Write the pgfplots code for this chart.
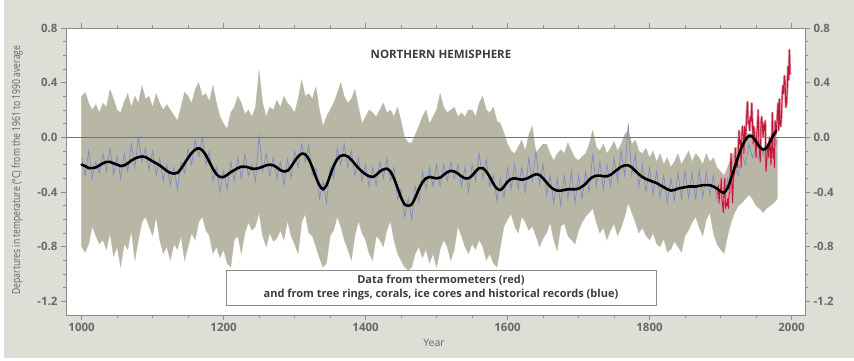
\documentclass[border=0pt]{standalone}
\usepackage{fontspec}
\setmainfont{Open Sans}
\usepackage{pgfplots}
\pgfplotsset{compat=1.18}
\usepackage{pgfplotstable}
\usepgfplotslibrary{fillbetween}
\definecolor{bggrey}{RGB}{222,222,214}
\definecolor{bandgrey}{RGB}{184,182,165}
\definecolor{recblue}{RGB}{120,135,205}
\definecolor{insred}{RGB}{190,25,55}
\definecolor{inspale}{RGB}{228,150,165}
\definecolor{axisgrey}{RGB}{140,140,140}
\definecolor{zerogrey}{RGB}{115,115,110}
\definecolor{labgrey}{RGB}{105,105,105}
\definecolor{txtgrey}{RGB}{60,60,60}
\pagecolor{bggrey}

\pgfplotstableread{
year up lo blue
1000 0.30 -0.80 -0.15
1005 0.33 -0.84 -0.28
1010 0.25 -0.78 -0.10
1015 0.20 -0.65 -0.30
1020 0.24 -0.72 -0.18
1025 0.18 -0.78 -0.26
1030 0.25 -0.75 -0.12
1035 0.22 -0.82 -0.25
1040 0.35 -0.70 -0.08
1045 0.28 -0.87 -0.27
1050 0.20 -0.80 -0.14
1055 0.18 -0.95 -0.30
1060 0.26 -0.78 -0.12
1065 0.32 -0.82 -0.25
1070 0.22 -0.68 -0.05
1075 0.30 -0.90 -0.22
1080 0.25 -0.75 0.00
1085 0.38 -0.62 -0.18
1090 0.28 -0.58 -0.08
1095 0.30 -0.65 -0.24
1100 0.22 -0.72 -0.10
1105 0.32 -0.58 -0.28
1110 0.25 -0.75 -0.15
1115 0.20 -0.85 -0.32
1120 0.24 -0.80 -0.20
1125 0.20 -0.90 -0.35
1130 0.16 -0.78 -0.22
1135 0.12 -0.82 -0.38
1140 0.22 -0.72 -0.18
1145 0.33 -0.90 -0.26
1150 0.30 -0.80 -0.08
1155 0.25 -0.70 -0.20
1160 0.35 -0.75 -0.02
1165 0.40 -0.62 -0.14
1170 0.30 -0.58 0.00
1175 0.32 -0.68 -0.20
1180 0.26 -0.72 -0.10
1185 0.38 -0.85 -0.32
1190 0.25 -0.80 -0.22
1195 0.15 -0.88 -0.40
1200 0.10 -0.82 -0.25
1205 0.06 -0.92 -0.38
1210 0.18 -0.95 -0.18
1215 0.22 -0.75 -0.32
1220 0.30 -0.72 -0.15
1225 0.25 -0.85 -0.30
1230 0.17 -0.70 -0.12
1235 0.20 -0.62 -0.28
1240 0.15 -0.68 -0.20
1245 0.22 -0.65 -0.32
1250 0.49 -0.55 0.02
1255 0.25 -0.72 -0.25
1260 0.15 -0.80 -0.12
1265 0.22 -0.70 -0.28
1270 0.20 -0.76 -0.15
1275 0.27 -0.74 -0.30
1280 0.22 -0.68 -0.18
1285 0.30 -0.75 -0.35
1290 0.25 -0.61 -0.16
1295 0.22 -0.72 -0.30
1300 0.18 -0.78 -0.10
1305 0.28 -0.85 -0.22
1310 0.42 -0.62 -0.05
1315 0.30 -0.56 -0.18
1320 0.32 -0.70 -0.06
1325 0.28 -0.72 -0.28
1330 0.37 -0.80 -0.22
1335 0.20 -0.88 -0.45
1340 0.08 -0.95 -0.32
1345 0.15 -0.92 -0.48
1350 0.20 -0.72 -0.22
1355 0.25 -0.68 -0.30
1360 0.32 -0.58 -0.08
1365 0.40 -0.65 -0.20
1370 0.30 -0.75 -0.05
1375 0.25 -0.82 -0.22
1380 0.28 -0.90 -0.10
1385 0.35 -0.72 -0.28
1390 0.22 -0.61 -0.15
1395 0.10 -0.70 -0.32
1400 0.15 -0.75 -0.20
1405 0.20 -0.85 -0.36
1410 0.18 -0.90 -0.22
1415 0.15 -0.72 -0.35
1420 0.20 -0.75 -0.18
1425 0.25 -0.80 -0.30
1430 0.18 -0.68 -0.15
1435 0.20 -0.61 -0.32
1440 0.15 -0.75 -0.22
1445 0.22 -0.85 -0.45
1450 0.12 -0.90 -0.38
1455 0.00 -0.95 -0.58
1460 -0.04 -0.97 -0.45
1465 -0.04 -0.95 -0.60
1470 0.02 -0.85 -0.36
1475 0.08 -0.80 -0.48
1480 0.15 -0.88 -0.25
1485 0.20 -0.82 -0.38
1490 0.10 -0.92 -0.22
1495 0.15 -0.85 -0.36
1500 0.20 -0.95 -0.20
1505 0.32 -0.82 -0.36
1510 0.22 -0.75 -0.20
1515 0.18 -0.80 -0.32
1520 0.20 -0.90 -0.18
1525 0.22 -0.82 -0.30
1530 0.15 -0.65 -0.20
1535 0.18 -0.72 -0.36
1540 0.15 -0.80 -0.22
1545 0.20 -0.85 -0.40
1550 0.20 -0.78 -0.20
1555 0.15 -0.82 -0.32
1560 0.25 -0.75 -0.12
1565 0.30 -0.80 -0.30
1570 0.20 -0.90 -0.16
1575 0.18 -0.85 -0.36
1580 0.22 -0.92 -0.28
1585 0.12 -0.95 -0.46
1590 0.10 -0.80 -0.30
1595 0.03 -0.65 -0.44
1600 -0.05 -0.60 -0.22
1605 -0.10 -0.56 -0.38
1610 -0.12 -0.65 -0.20
1615 -0.07 -0.70 -0.38
1620 -0.02 -0.58 -0.22
1625 -0.10 -0.62 -0.40
1630 0.02 -0.68 -0.15
1635 0.08 -0.65 -0.32
1640 -0.12 -0.72 -0.10
1645 -0.08 -0.80 -0.35
1650 -0.05 -0.74 -0.20
1655 -0.05 -0.70 -0.42
1660 -0.12 -0.62 -0.28
1665 -0.17 -0.75 -0.48
1670 -0.12 -0.83 -0.30
1675 -0.09 -0.65 -0.50
1680 -0.12 -0.63 -0.28
1685 -0.04 -0.72 -0.45
1690 -0.10 -0.75 -0.25
1695 -0.15 -0.78 -0.48
1700 -0.17 -0.68 -0.28
1705 -0.14 -0.62 -0.45
1710 -0.12 -0.58 -0.25
1715 -0.05 -0.55 -0.40
1720 0.05 -0.52 -0.12
1725 -0.07 -0.62 -0.36
1730 -0.10 -0.70 -0.18
1735 -0.05 -0.66 -0.38
1740 -0.12 -0.75 -0.20
1745 -0.08 -0.68 -0.36
1750 -0.03 -0.63 -0.15
1755 -0.10 -0.72 -0.32
1760 -0.05 -0.66 -0.10
1765 0.02 -0.58 -0.28
1770 0.05 -0.48 0.10
1775 -0.05 -0.55 -0.28
1780 -0.02 -0.62 -0.12
1785 -0.10 -0.70 -0.36
1790 -0.12 -0.66 -0.20
1795 -0.08 -0.72 -0.40
1800 -0.15 -0.75 -0.22
1805 -0.10 -0.70 -0.42
1810 -0.18 -0.78 -0.25
1815 -0.12 -0.80 -0.44
1820 -0.20 -0.74 -0.28
1825 -0.15 -0.84 -0.48
1830 -0.22 -0.82 -0.30
1835 -0.18 -0.76 -0.46
1840 -0.12 -0.80 -0.26
1845 -0.20 -0.84 -0.45
1850 -0.15 -0.72 -0.25
1855 -0.10 -0.68 -0.44
1860 -0.18 -0.62 -0.26
1865 -0.12 -0.58 -0.45
1870 -0.15 -0.66 -0.24
1875 -0.20 -0.72 -0.44
1880 -0.12 -0.60 -0.26
1885 -0.18 -0.55 -0.42
1890 -0.15 -0.70 -0.28
1895 -0.22 -0.78 -0.46
1900 -0.25 -0.82 -0.32
1905 -0.28 -0.85 -0.48
1910 -0.22 -0.72 -0.30
1915 -0.15 -0.62 -0.40
1920 -0.10 -0.55 -0.20
1925 -0.05 -0.50 -0.28
1930 0.00 -0.48 -0.12
1935 0.02 -0.45 -0.20
1940 0.03 -0.42 -0.05
1945 0.02 -0.45 -0.15
1950 -0.02 -0.50 -0.08
1955 -0.05 -0.52 -0.18
1960 -0.08 -0.55 -0.10
1965 -0.06 -0.52 -0.20
1970 -0.05 -0.50 -0.06
1975 -0.02 -0.48 -0.12
1980 0.00 -0.45 -0.02
}\recon

\pgfplotstableread{
year smooth
1000 -0.20
1005 -0.21
1010 -0.225
1015 -0.225
1020 -0.22
1025 -0.205
1030 -0.19
1035 -0.18
1040 -0.18
1045 -0.19
1050 -0.20
1055 -0.21
1060 -0.205
1065 -0.19
1070 -0.17
1075 -0.155
1080 -0.145
1085 -0.14
1090 -0.145
1095 -0.16
1100 -0.175
1105 -0.19
1110 -0.205
1115 -0.225
1120 -0.245
1125 -0.26
1130 -0.265
1135 -0.26
1140 -0.23
1145 -0.19
1150 -0.15
1155 -0.115
1160 -0.09
1165 -0.08
1170 -0.095
1175 -0.13
1180 -0.18
1185 -0.23
1190 -0.27
1195 -0.29
1200 -0.29
1205 -0.275
1210 -0.255
1215 -0.24
1220 -0.225
1225 -0.215
1230 -0.215
1235 -0.22
1240 -0.23
1245 -0.23
1250 -0.225
1255 -0.215
1260 -0.205
1265 -0.20
1270 -0.205
1275 -0.22
1280 -0.24
1285 -0.25
1290 -0.245
1295 -0.215
1300 -0.175
1305 -0.14
1310 -0.12
1315 -0.125
1320 -0.16
1325 -0.22
1330 -0.29
1335 -0.35
1340 -0.38
1345 -0.35
1350 -0.28
1355 -0.21
1360 -0.16
1365 -0.135
1370 -0.13
1375 -0.14
1380 -0.165
1385 -0.195
1390 -0.225
1395 -0.25
1400 -0.27
1405 -0.285
1410 -0.29
1415 -0.275
1420 -0.25
1425 -0.235
1430 -0.23
1435 -0.25
1440 -0.30
1445 -0.37
1450 -0.44
1455 -0.49
1460 -0.50
1465 -0.49
1470 -0.44
1475 -0.38
1480 -0.33
1485 -0.30
1490 -0.29
1495 -0.295
1500 -0.30
1505 -0.295
1510 -0.275
1515 -0.255
1520 -0.245
1525 -0.25
1530 -0.265
1535 -0.285
1540 -0.30
1545 -0.30
1550 -0.28
1555 -0.25
1560 -0.225
1565 -0.225
1570 -0.25
1575 -0.29
1580 -0.34
1585 -0.375
1590 -0.385
1595 -0.36
1600 -0.325
1605 -0.305
1610 -0.30
1615 -0.305
1620 -0.31
1625 -0.305
1630 -0.295
1635 -0.28
1640 -0.27
1645 -0.275
1650 -0.30
1655 -0.33
1660 -0.36
1665 -0.38
1670 -0.39
1675 -0.39
1680 -0.385
1685 -0.38
1690 -0.38
1695 -0.38
1700 -0.375
1705 -0.36
1710 -0.34
1715 -0.31
1720 -0.29
1725 -0.28
1730 -0.28
1735 -0.285
1740 -0.285
1745 -0.275
1750 -0.255
1755 -0.235
1760 -0.215
1765 -0.205
1770 -0.205
1775 -0.22
1780 -0.245
1785 -0.27
1790 -0.29
1795 -0.305
1800 -0.315
1805 -0.325
1810 -0.335
1815 -0.35
1820 -0.365
1825 -0.38
1830 -0.39
1835 -0.385
1840 -0.375
1845 -0.37
1850 -0.365
1855 -0.36
1860 -0.36
1865 -0.36
1870 -0.355
1875 -0.35
1880 -0.35
1885 -0.35
1890 -0.36
1895 -0.375
1900 -0.395
1905 -0.405
1910 -0.37
1915 -0.30
1920 -0.22
1925 -0.14
1930 -0.07
1935 -0.02
1940 0.01
1945 0.005
1950 -0.03
1955 -0.07
1960 -0.09
1965 -0.075
1970 -0.03
1975 0.02
1978 0.045
}\smoothed

\pgfplotstableread{
year temp
1896 -0.42
1897 -0.35
1898 -0.48
1899 -0.38
1900 -0.40
1901 -0.30
1902 -0.45
1903 -0.50
1904 -0.55
1905 -0.38
1906 -0.30
1907 -0.52
1908 -0.48
1909 -0.50
1910 -0.45
1911 -0.52
1912 -0.42
1913 -0.40
1914 -0.20
1915 -0.12
1916 -0.35
1917 -0.48
1918 -0.32
1919 -0.28
1920 -0.25
1921 -0.08
1922 -0.22
1923 -0.15
1924 -0.22
1925 -0.10
1926 0.05
1927 -0.05
1928 -0.02
1929 -0.22
1930 0.02
1931 0.08
1932 0.02
1933 -0.12
1934 0.08
1935 -0.02
1936 0.05
1937 0.18
1938 0.26
1939 0.10
1940 0.12
1941 0.05
1942 0.15
1943 0.12
1944 0.25
1945 0.10
1946 -0.05
1947 0.08
1948 0.02
1949 -0.05
1950 -0.15
1951 0.02
1952 0.08
1953 0.20
1954 -0.05
1955 -0.12
1956 -0.18
1957 0.10
1958 0.15
1959 0.08
1960 0.00
1961 0.10
1962 0.05
1963 0.12
1964 -0.25
1965 -0.18
1966 -0.10
1967 -0.05
1968 -0.15
1969 0.00
1970 -0.05
1971 -0.20
1972 -0.10
1973 0.18
1974 -0.15
1975 -0.08
1976 -0.22
1977 0.12
1978 0.02
1979 0.08
1980 0.15
1981 0.25
1982 0.05
1983 0.28
1984 0.10
1985 0.08
1986 0.18
1987 0.32
1988 0.38
1989 0.32
1990 0.45
1991 0.40
1992 0.22
1993 0.25
1994 0.35
1995 0.52
1996 0.42
1997 0.64
1998 0.46
}\instr

\begin{document}
\begin{tikzpicture}
\begin{axis}[
  at={(0,0)}, anchor=south west,
  scale only axis, width=739pt, height=287pt,
  xmin=978, xmax=2019, ymin=-1.3, ymax=0.8,
  axis background/.style={fill=white},
  axis line style={draw=axisgrey, line width=0.6pt},
  tick align=outside, tick pos=both,
  xtick={1000,1200,1400,1600,1800,2000},
  xticklabels={1000,1200,1400,1600,1800,2000},
  minor x tick num=3,
  ytick={-1.2,-0.8,-0.4,0,0.4,0.8},
  yticklabels={-1.2,-0.8,-0.4,0.0,0.4,0.8},
  minor y tick num=3,
  major tick length=5pt, minor tick length=3pt,
  every tick/.style={draw=axisgrey, line width=0.6pt},
  tick label style={font=\bfseries\fontsize{11.5}{12}\selectfont, text=labgrey},
  xlabel={Year},
  xlabel style={at={(axis description cs:0.498,-0.0976)}, anchor=center, font=\fontsize{10.5}{11}\selectfont, text=labgrey},
  ylabel={\scalebox{0.78}[1]{Departures in temperature (°C) from the 1961 to 1990 average}},
  ylabel style={at={(axis description cs:-0.066,0.505)}, anchor=center, font=\fontsize{11}{11}\selectfont, text=txtgrey!80},
  clip=true,
]
\addplot[name path=U, draw=none, forget plot] table[x=year, y=up] {\recon};
\addplot[name path=L, draw=none, forget plot] table[x=year, y=lo] {\recon};
\addplot[bandgrey, draw=bandgrey, line width=0.3pt] fill between[of=U and L];
\addplot[zerogrey, line width=0.7pt] coordinates {(978,0) (2019,0)};
\addplot[recblue, line width=0.7pt, opacity=0.9] table[x=year, y=blue] {\recon};
\addplot[inspale, line width=2.4pt, line join=round] table[x=year, y=temp] {\instr};
\addplot[insred, line width=0.9pt, line join=round] table[x=year, y=temp] {\instr};
\addplot[black, line width=2.6pt, smooth, line cap=round] table[x=year, y=smooth] {\smoothed};
\node[font=\bfseries\fontsize{11.5}{12}\selectfont, text=txtgrey] at (rel axis cs:0.5074,0.909) {NORTHERN HEMISPHERE};
\node[draw=axisgrey, line width=0.9pt, fill=white, minimum width=430pt, minimum height=35pt, align=center,
      font=\bfseries\fontsize{11}{13.5}\selectfont, text=txtgrey, inner sep=1pt] at (rel axis cs:0.5074,0.0958)
      {Data from thermometers (red)\\and from tree rings, corals, ice cores and historical records (blue)};
\end{axis}
\begin{axis}[
  at={(0,0)}, anchor=south west,
  scale only axis, width=739pt, height=287pt,
  xmin=978, xmax=2019, ymin=-1.3, ymax=0.8,
  hide x axis, axis y line*=right,
  y axis line style={draw=none},
  ytick={-1.2,-0.8,-0.4,0,0.4,0.8},
  yticklabels={-1.2,-0.8,-0.4,0.0,0.4,0.8},
  ytick style={draw=none}, minor y tick num=0,
  yticklabel style={font=\bfseries\fontsize{11.5}{12}\selectfont, text=labgrey, xshift=5pt},
]
\addplot[draw=none] coordinates {(1000,0)};
\end{axis}
\fill[white] (-66pt,-46pt) rectangle (788pt,-43pt);
\fill[white] (-66pt,-46pt) rectangle (-62pt,315pt);
\pgfresetboundingbox
\path[use as bounding box] (-66pt,-46pt) rectangle (788pt,315pt);
\end{tikzpicture}
\end{document}
